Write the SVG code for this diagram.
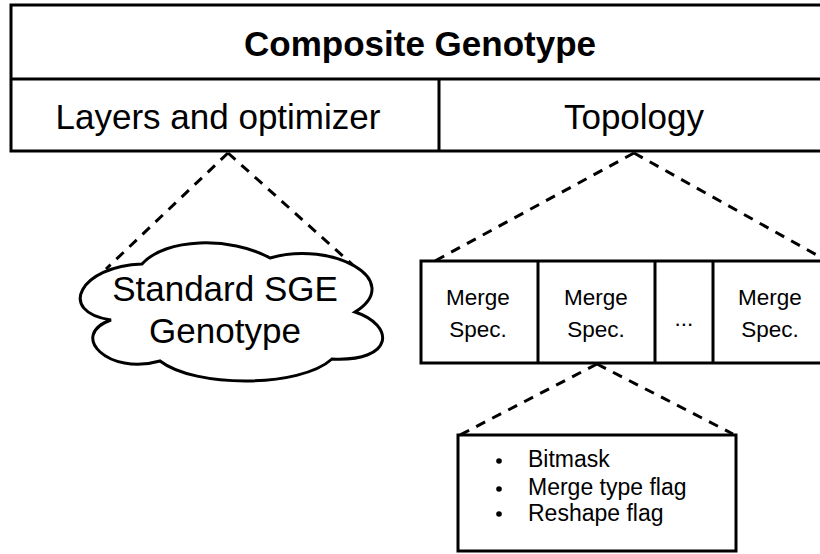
<svg xmlns="http://www.w3.org/2000/svg" width="820" height="554" viewBox="0 0 820 554">
<style>
.box{fill:#fff;stroke:#000;stroke-width:3}
.ln{stroke:#000;stroke-width:3;fill:none}
.dash{stroke:#000;stroke-width:3;fill:none;stroke-dasharray:10 8}
text{font-family:"Liberation Sans",Arial,sans-serif;fill:#000;text-anchor:middle}
.big{font-size:35px}
.bold{font-weight:bold}
.med{font-size:22.5px}
.sm{font-size:23px;text-anchor:start}
</style>
<rect width="820" height="554" fill="#fff"/>
<g id="connectors">
<path class="dash" d="M228,153 L106,269 M228,153 L354,266"/>
<path class="dash" d="M634,153 L433,262 M634,153 L822,258"/>
<path class="dash" d="M597,364 L458,436 M597,364 L733,434"/>
</g>
<g id="composite">
<rect class="box" x="11" y="5" width="820" height="146"/>
<path class="ln" d="M11,79 H822 M439,79 V151"/>
<text class="big bold" x="420" y="56">Composite Genotype</text>
</g>
<g id="layers">
<text class="big" x="218" y="129">Layers and optimizer</text>
</g>
<g id="topology">
<text class="big" x="634" y="129">Topology</text>
</g>
<g id="sge">
<path class="box" d="M142,264 C80,266 56,312 111,320 C68,335 108,376 160,361 C195,388 300,388 332,359 C395,362 395,325 355,312 C406,280 332,240 270,258 C230,236 165,238 142,264 Z"/>
<text class="big" x="225" y="301">Standard SGE</text>
<text class="big" x="225" y="343">Genotype</text>
</g>
<g id="merge-specs">
<rect class="box" x="421" y="261" width="410" height="102"/>
<path class="ln" d="M538,261 V363 M655,261 V363 M713,261 V363"/>
<text class="med" x="478" y="305">Merge</text>
<text class="med" x="478" y="337">Spec.</text>
<text class="med" x="596" y="305">Merge</text>
<text class="med" x="596" y="337">Spec.</text>
<text class="med" x="684" y="326">...</text>
<text class="med" x="770" y="305">Merge</text>
<text class="med" x="770" y="337">Spec.</text>
</g>
<g id="details">
<rect class="box" x="458" y="435" width="278" height="116"/>
<circle cx="499" cy="461" r="2.8"/>
<circle cx="499" cy="489" r="2.8"/>
<circle cx="499" cy="514" r="2.8"/>
<text class="sm" x="528" y="467">Bitmask</text>
<text class="sm" x="528" y="495">Merge type flag</text>
<text class="sm" x="528" y="521">Reshape flag</text>
</g>
</svg>
